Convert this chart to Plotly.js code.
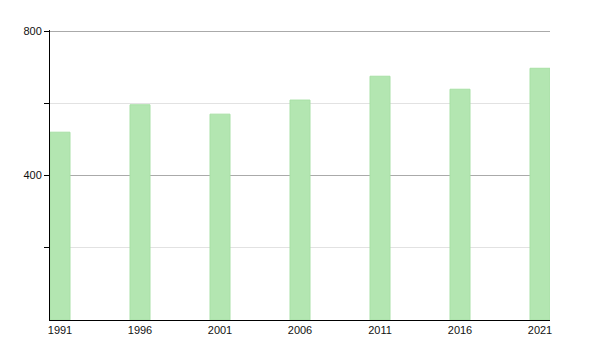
<!DOCTYPE html>
<html>
<head>
<meta charset="utf-8">
<script src="https://cdn.plot.ly/plotly-3.0.1.min.js"></script>
<style>html,body{margin:0;padding:0;background:#fff;}#chart{width:600px;height:350px;}</style>
</head>
<body>
<div id="chart"></div>
<script>
var years = ['1991','1996','2001','2006','2011','2016','2021'];
var population = [520, 596, 570, 609, 675, 639, 697];
var yTickVals = [400, 800];
var yTickText = ['400', '800'];

var positions = years.map(function(_, i){ return i; });

var trace = {
  type: 'bar',
  x: positions,
  y: population,
  width: 0.25,
  marker: {color: '#b3e6b1', line: {color: '#a8e0a6', width: 1}},
  hoverinfo: 'x+y'
};

var layout = {
  width: 600, height: 350,
  margin: {l: 50, r: 50, t: 30, b: 30, pad: 0},
  paper_bgcolor: '#fff', plot_bgcolor: '#fff',
  showlegend: false,
  font: {family: 'Liberation Sans, Arial, sans-serif', size: 11, color: '#111'},
  bargap: 0,
  xaxis: {
    range: [-0.125, 6.125],
    tickvals: positions,
    ticktext: years,
    showgrid: false,
    zeroline: false,
    showline: true, linecolor: '#000', linewidth: 1,
    ticks: '',
    fixedrange: true
  },
  yaxis: {
    range: [0, 803],
    tickvals: yTickVals,
    ticktext: yTickText,
    showgrid: true, gridcolor: '#aaaaaa', gridwidth: 1,
    zeroline: false,
    showline: true, linecolor: '#000', linewidth: 1,
    ticks: 'outside', ticklen: 5, tickcolor: '#000',
    minor: {tickvals: [200, 600], ticks: 'outside', ticklen: 5, tickcolor: '#000', showgrid: true, gridcolor: '#e2e2e2', gridwidth: 1},
    fixedrange: true
  }
};

Plotly.newPlot('chart', [trace], layout, {displayModeBar: false, staticPlot: true});
</script>
</body>
</html>
